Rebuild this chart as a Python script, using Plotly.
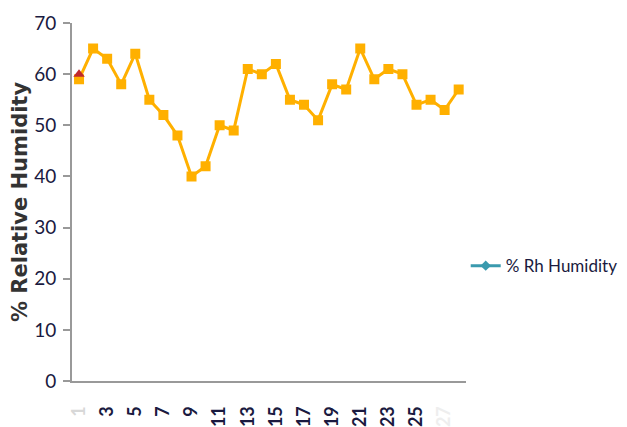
import plotly.graph_objects as go

days = [str(i) for i in range(1, 29)]
humidity = [59, 65, 63, 58, 64, 55, 52, 48, 40, 42, 50, 49, 61, 60, 62, 55, 54, 51,
            58, 57, 65, 59, 61, 60, 54, 55, 53, 57]
first_day = ["1"]
first_value = [60]
tick_days = [str(i) for i in range(1, 28, 2)]
tick_labels = ["<span style='color:#d8d8d8'>1</span>"] + [str(i) for i in range(3, 27, 2)] + ["<span style='color:#eeeeee'>27</span>"]

fig = go.Figure()
fig.add_trace(go.Scatter(
    x=days, y=humidity, mode="lines+markers",
    line=dict(color="#FFB000", width=3),
    marker=dict(symbol="square", size=10, color="#FFB000"),
    showlegend=False))
fig.add_trace(go.Scatter(
    x=first_day, y=first_value, mode="markers",
    marker=dict(symbol="triangle-up", size=10, color="#C0282E"),
    showlegend=False))
fig.add_trace(go.Scatter(
    x=[None], y=[None], mode="lines+markers", name="% Rh Humidity",
    line=dict(color="#3A9AAE", width=3),
    marker=dict(symbol="diamond", size=8, color="#3A9AAE")))

fig.update_layout(
    width=627, height=419,
    margin=dict(l=64, r=168, t=15, b=46),
    paper_bgcolor="white", plot_bgcolor="white",
    font=dict(family="Lato", color="#1a1a40"),
    legend=dict(xref="container", yref="container", x=0.73, y=0.384,
                xanchor="left", yanchor="middle",
                font=dict(family="Lato", size=17, color="#1a1a40"),
                itemwidth=30, bgcolor="rgba(0,0,0,0)"),
    xaxis=dict(type="category", range=[-0.5, 27.5], automargin=False,
               tickmode="array", tickvals=tick_days, ticktext=tick_labels,
               tickangle=-90, ticks="", ticklabelstandoff=16,
               tickfont=dict(family="Lato", size=18, color="#1a1a40", weight="bold"),
               showline=True, linecolor="#999999", linewidth=2, showgrid=False, zeroline=False),
    yaxis=dict(range=[0, 70], tickmode="linear", tick0=0, dtick=10, automargin=False,
               ticks="outside", ticklen=7, tickcolor="#999999", tickwidth=2, ticklabelstandoff=3,
               tickfont=dict(family="Lato", size=19, color="#1a1a40"),
               showline=True, linecolor="#999999", linewidth=2, showgrid=False, zeroline=False,
               title=dict(text="<b>% Relative Humidity</b>", standoff=5,
                          font=dict(family="DejaVu Sans", size=21, color="#333333"))),
)

fig.write_html("out.html")
